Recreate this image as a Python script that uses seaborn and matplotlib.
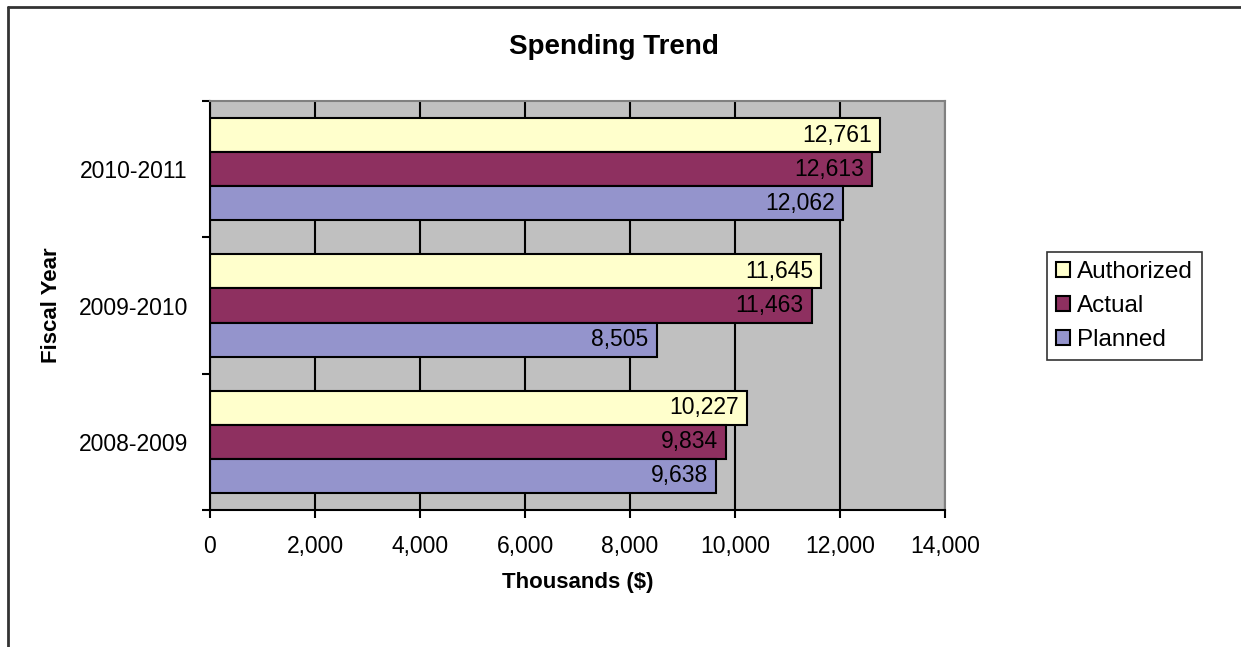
import matplotlib
matplotlib.use("Agg")
import matplotlib.pyplot as plt
import seaborn as sns
import pandas as pd
from matplotlib.lines import Line2D
from matplotlib.ticker import StrMethodFormatter

years = ["2010-2011", "2009-2010", "2008-2009"]
series = ["Authorized", "Actual", "Planned"]
authorized = [12761, 11645, 10227]
actual = [12613, 11463, 9834]
planned = [12062, 8505, 9638]
x_ticks = [0, 2000, 4000, 6000, 8000, 10000, 12000, 14000]

colors = {"Authorized": "#FFFFCC", "Actual": "#8E3060", "Planned": "#9494CC"}

df = pd.DataFrame({
    "Fiscal Year": years * 3,
    "Series": [s for s in series for _ in years],
    "Value": authorized + actual + planned,
})

sns.set_style("ticks")
plt.rcParams["font.family"] = ["Liberation Sans", "DejaVu Sans"]
plt.rcParams["text.color"] = "black"
plt.rcParams["axes.labelcolor"] = "black"
plt.rcParams["xtick.color"] = "black"
plt.rcParams["ytick.color"] = "black"

fig = plt.figure(figsize=(12.41, 6.47), dpi=100)
ax = fig.add_axes([210 / 1241, 1 - 510 / 647, 735 / 1241, 409 / 647])
ax.set_facecolor("#C0C0C0")
ax.set_axisbelow(True)

sns.barplot(data=df, y="Fiscal Year", x="Value", hue="Series",
            order=years, hue_order=series, palette=colors, orient="h",
            width=0.75, saturation=1, edgecolor="black", linewidth=1.5, ax=ax)

# data labels inside bar ends
for cont in ax.containers:
    texts = ax.bar_label(cont, fmt="{:,.0f}", padding=-6, fontsize=16.5, color="black")
    for t in texts:
        t.set_ha("right")

ax.set_xlim(0, 14000)
ax.set_xticks(x_ticks)
ax.xaxis.set_major_formatter(StrMethodFormatter("{x:,.0f}"))
ax.xaxis.grid(True, color="black", linewidth=1.5)
ax.yaxis.grid(False)
ax.tick_params(axis="x", direction="out", length=6, width=1.5, pad=12, labelsize=16.5)
ax.tick_params(axis="y", which="major", length=0, pad=16, labelsize=16.5)
ax.set_yticks([-0.5, 0.5, 1.5, 2.5], minor=True)
ax.tick_params(axis="y", which="minor", length=6, width=1.5)

for side in ["left", "bottom"]:
    ax.spines[side].set_color("black")
    ax.spines[side].set_linewidth(1.5)
for side in ["top", "right"]:
    ax.spines[side].set_visible(True)
    ax.spines[side].set_color("#808080")
    ax.spines[side].set_linewidth(1.5)

ax.set_xlabel("Thousands ($)", fontsize=16, fontweight="bold", labelpad=10)
ax.set_ylabel("Fiscal Year", fontsize=16, fontweight="bold", labelpad=12)

fig.text(614 / 1241, 1 - 47 / 647, "Spending Trend", fontsize=20,
         fontweight="bold", ha="center", va="center")

handles, labels = ax.get_legend_handles_labels()
ax.get_legend().remove()
leg = fig.legend(handles, labels, loc="center left",
                 bbox_to_anchor=(1047 / 1241, 1 - 306 / 647),
                 fontsize=17.5, frameon=True, fancybox=False,
                 edgecolor="black", handlelength=0.6, handleheight=0.6,
                 handletextpad=0.3, labelspacing=0.5, borderpad=0.35,
                 borderaxespad=0)
leg.get_frame().set_linewidth(1.2)

# chart border (left and top edges visible)
fig.add_artist(Line2D([8 / 1241, 8 / 1241], [0, 1 - 7 / 647],
                      transform=fig.transFigure, color="#333333", lw=2))
fig.add_artist(Line2D([8 / 1241, 1], [1 - 7 / 647, 1 - 7 / 647],
                      transform=fig.transFigure, color="#333333", lw=2))

fig.savefig("out.png", dpi=100)
